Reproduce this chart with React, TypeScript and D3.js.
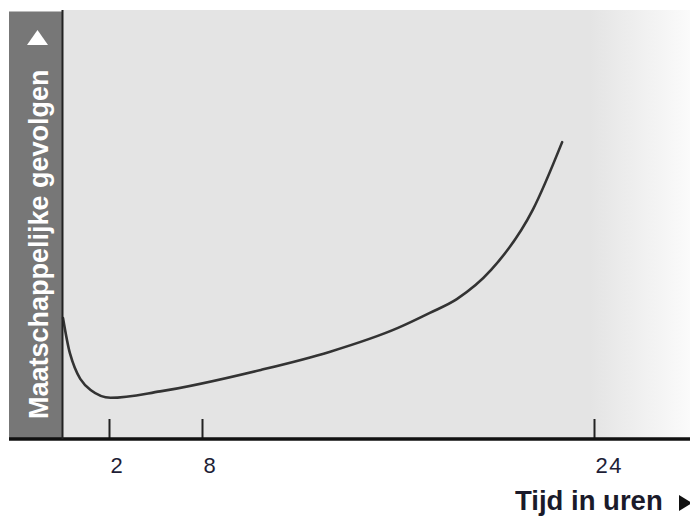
import { useEffect, useRef } from "react";
import * as d3 from "d3";

// Hours after the event (x) and societal impact (y, arbitrary 0-100)
const hours = [0, 0.3, 1.2, 2.1, 5.3, 10.4, 13.2, 16.0, 17.3, 18.4, 19.8, 21.5, 22.7];
const impact = [28.2, 20, 11.4, 9.6, 11.1, 16.1, 20.3, 25.9, 29.4, 32.6, 39.4, 53.4, 69.2];

// Axis tick values (uneven spacing on the original)
const tickHours = [0, 2, 8, 24];
const tickLabels = [2, 8, 24];

const yTitle = "Maatschappelijke gevolgen";
const xTitle = "Tijd in uren";

export default function App() {
  const svgRef = useRef<SVGSVGElement>(null);

  useEffect(() => {
    if (!svgRef.current) return;
    const svg = d3.select(svgRef.current);
    const width = 690;
    const height = 516;
    svg.selectAll("*").remove();
    svg.attr("width", width).attr("height", height);

    const left = 63;
    const top = 10;
    const base = 439;

    // piecewise linear scale, the picture is not to scale
    const x = d3.scaleLinear().domain(tickHours).range([63, 109, 202, 594]);
    const y = d3.scaleLinear().domain([0, 100]).range([base, top]);

    // gradient fading to white at the right
    const defs = svg.append("defs");
    const grad = defs
      .append("linearGradient")
      .attr("id", "fade")
      .attr("gradientUnits", "userSpaceOnUse")
      .attr("x1", left)
      .attr("x2", width)
      .attr("y1", 0)
      .attr("y2", 0);
    grad.append("stop").attr("offset", 0).attr("stop-color", "#e4e4e4");
    grad
      .append("stop")
      .attr("offset", (590 - left) / (width - left))
      .attr("stop-color", "#e4e4e4");
    grad.append("stop").attr("offset", 1).attr("stop-color", "#fbfbfb");

    svg
      .append("rect")
      .attr("x", left)
      .attr("y", top)
      .attr("width", width - left)
      .attr("height", base - top)
      .attr("fill", "url(#fade)");

    // dark band behind the y title
    svg
      .append("rect")
      .attr("x", 9)
      .attr("y", 11.5)
      .attr("width", left - 9)
      .attr("height", base - 11.5)
      .attr("fill", "#777777");

    // curve
    const line = d3
      .line<number>()
      .x((_, i) => x(hours[i]))
      .y((d) => y(d))
      .curve(d3.curveMonotoneX);

    svg
      .append("path")
      .attr("d", line(impact))
      .attr("fill", "none")
      .attr("stroke", "#333333")
      .attr("stroke-width", 2.6)
      .attr("stroke-linecap", "round");

    // x axis
    const axis = svg
      .append("g")
      .attr("transform", `translate(0,${base})`)
      .call(
        d3
          .axisBottom(x)
          .tickValues(tickLabels)
          .tickSize(-20)
          .tickPadding(0)
          .tickFormat((d) => `${d}`)
      );
    axis.select(".domain").remove();
    axis.selectAll(".tick line").attr("stroke", "#222").attr("stroke-width", 2);
    axis
      .selectAll(".tick text")
      .attr("y", 18)
      .attr("dx", 1)
      .attr("text-anchor", "start")
      .attr("fill", "#1e1e36")
      .attr("font-family", "Liberation Sans, Arial, sans-serif")
      .attr("font-size", 22)
      .attr("letter-spacing", 1.5);

    svg
      .append("line")
      .attr("x1", 9)
      .attr("x2", width)
      .attr("y1", base)
      .attr("y2", base)
      .attr("stroke", "#111")
      .attr("stroke-width", 3.5);

    // y axis line
    svg
      .append("line")
      .attr("x1", 62.5)
      .attr("x2", 62.5)
      .attr("y1", top)
      .attr("y2", base)
      .attr("stroke", "#222")
      .attr("stroke-width", 2);

    // y title
    svg
      .append("text")
      .attr("transform", `translate(47.5,${419}) rotate(-90)`)
      .attr("fill", "#ffffff")
      .attr("font-family", "Liberation Sans, Arial, sans-serif")
      .attr("font-weight", "bold")
      .attr("font-size", 27)
      .text(yTitle);
    svg
      .append("path")
      .attr("d", "M37.5,30L48,45L27,45Z")
      .attr("fill", "#ffffff");

    // x title
    svg
      .append("text")
      .attr("x", 515)
      .attr("y", 510)
      .attr("fill", "#1a1a2a")
      .attr("font-family", "Liberation Sans, Arial, sans-serif")
      .attr("font-weight", "bold")
      .attr("font-size", 27.5)
      .text(xTitle);
    svg
      .append("path")
      .attr("d", "M679,495L679,511L692,503Z")
      .attr("fill", "#111111");
  }, []);

  return (
    <svg
      ref={svgRef}
      style={{ position: "absolute", left: 0, top: 0, background: "#ffffff" }}
    ></svg>
  );
}
